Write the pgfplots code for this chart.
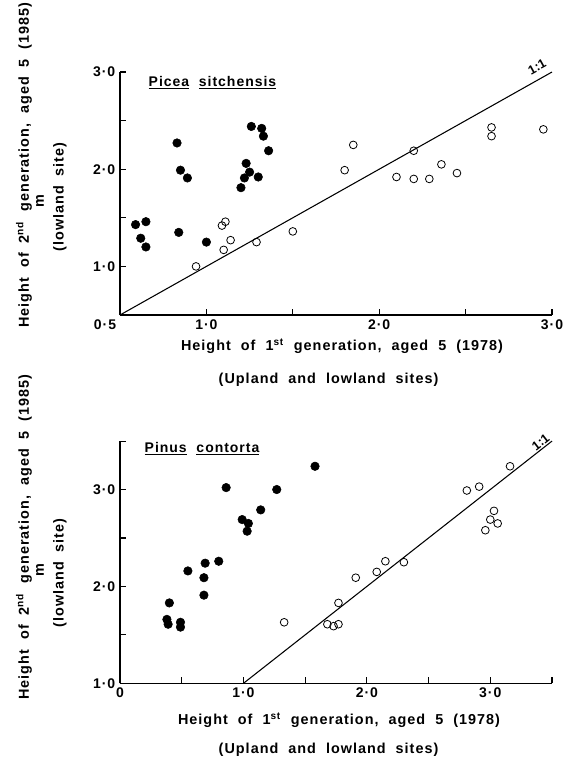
\documentclass[border=0pt]{standalone}
\usepackage{pgfplots}
\pgfplotsset{compat=1.18}
\usepackage{fontspec}
\setmainfont{Liberation Sans}[WordSpace=2, LetterSpace=7]

% filled = ?, open = ? ; both panels share the same styling
\pgfplotsset{
  treeax/.style={
    scale only axis,
    axis lines=left,
    axis line style={-, line width=0.8pt},
    tick align=inside,
    major tick length=4.5pt,
    tick style={line width=0.8pt, black},
    ticklabel style={font=\bfseries\fontsize{10.5}{12}\selectfont},
    clip=false,
  },
  filled/.style={only marks, mark=*, mark size=3.2pt, mark options={fill=black, draw=black}},
  hollow/.style={only marks, mark=o, mark size=2.9pt, mark options={line width=0.6pt, draw=black}},
}
\tikzset{oneone/.style={font=\bfseries\fontsize{9.5}{10}\selectfont\addfontfeatures{LetterSpace=0}, inner sep=0pt}}

\begin{document}
\begin{tikzpicture}[font=\bfseries\fontsize{10.8}{12}\selectfont]
\path[use as bounding box] (0,0) rectangle (427.5pt,-568.5pt);

% ---- Picea sitchensis ----
\begin{axis}[treeax,
    at={(90pt,-236.25pt)}, anchor=south west,
    width=324pt, height=182.25pt,
    xmin=0.5, xmax=3, ymin=0.5, ymax=3,
    xtick={1,1.5,2,2.5,3}, xticklabels={1·0,,2·0,,3·0},
    ytick={1,1.5,2,2.5,3}, yticklabels={1·0,,2·0,,3·0},
]
\addplot[black, line width=0.8pt] coordinates {(0.5,0.5) (3,3)};
\addplot[filled] coordinates {
  (0.59,1.43) (0.65,1.46) (0.62,1.29) (0.65,1.20) (0.83,2.27) (0.85,1.99)
  (0.89,1.91) (0.84,1.35) (1.00,1.25) (1.26,2.44) (1.32,2.42) (1.33,2.34)
  (1.36,2.19) (1.23,2.06) (1.25,1.97) (1.22,1.91) (1.30,1.92) (1.20,1.81)
};
\addplot[hollow] coordinates {
  (0.94,1.00) (1.09,1.42) (1.11,1.46) (1.14,1.27) (1.10,1.17) (1.29,1.25)
  (1.50,1.36) (1.80,1.99) (1.85,2.25) (2.10,1.92) (2.20,2.19) (2.20,1.90)
  (2.29,1.90) (2.36,2.05) (2.45,1.96) (2.65,2.43) (2.65,2.34) (2.95,2.41)
};
\end{axis}

\node[font=\bfseries\fontsize{10.5}{12}\selectfont] at (78.75pt,-243.75pt) {0·5};
\node[anchor=base west, font=\bfseries\fontsize{10.5}{12}\selectfont] at (108pt,-64.5pt) {\underline{Picea}\ \underline{sitchensis}};
\node[rotate=29, oneone] at (402.75pt,-50.25pt) {1:1};
\node at (256.5pt,-259.5pt) {Height of 1\textsuperscript{st} generation, aged 5 (1978)};
\node at (246.4pt,-285pt) {(Upland and lowland sites)};
\node[rotate=90] at (18pt,-123.75pt) {Height of 2\textsuperscript{nd} generation, aged 5 (1985)};
\node[rotate=90] at (30pt,-150.75pt) {m};
\node[rotate=90] at (45pt,-147.75pt) {(lowland site)};

% ---- Pinus contorta ----
\begin{axis}[treeax,
    at={(90pt,-512.5pt)}, anchor=south west,
    width=324pt, height=181.7pt,
    xmin=0, xmax=3.5, ymin=1, ymax=3.5,
    xtick={0,0.5,1,1.5,2,2.5,3,3.5}, xticklabels={0,,1·0,,2·0,,3·0,},
    ytick={1,1.5,2,2.5,3,3.5}, yticklabels={1·0,,2·0,,3·0,},
]
\addplot[black, line width=0.8pt] coordinates {(1,1) (3.5,3.5)};
\addplot[filled] coordinates {
  (0.86,3.02) (1.27,3.00) (1.14,2.79) (0.99,2.69) (1.04,2.65) (1.03,2.57)
  (0.69,2.24) (0.80,2.26) (0.55,2.16) (0.68,2.09) (0.68,1.91) (0.40,1.83)
  (0.38,1.66) (0.39,1.61) (0.49,1.63) (0.49,1.58) (1.58,3.24)
};
\addplot[hollow] coordinates {
  (1.33,1.63) (1.68,1.61) (1.73,1.59) (1.77,1.61) (1.77,1.83) (1.91,2.09)
  (2.08,2.15) (2.15,2.26) (2.30,2.25) (2.81,2.99) (2.91,3.03) (3.16,3.24)
  (3.03,2.78) (3.00,2.69) (3.06,2.65) (2.96,2.58)
};
\end{axis}

\node[anchor=base west, font=\bfseries\fontsize{10.5}{12}\selectfont] at (105pt,-339.5pt) {\underline{Pinus}\ \underline{contorta}};
\node[rotate=38, oneone] at (405.4pt,-331.5pt) {1:1};
\node at (254.25pt,-540pt) {Height of 1\textsuperscript{st} generation, aged 5 (1978)};
\node at (246.4pt,-562.5pt) {(Upland and lowland sites)};
\node[rotate=90] at (18pt,-402.75pt) {Height of 2\textsuperscript{nd} generation, aged 5 (1985)};
\node[rotate=90] at (30pt,-427.5pt) {m};
\node[rotate=90] at (45pt,-429.75pt) {(lowland site)};
\end{tikzpicture}
\end{document}
